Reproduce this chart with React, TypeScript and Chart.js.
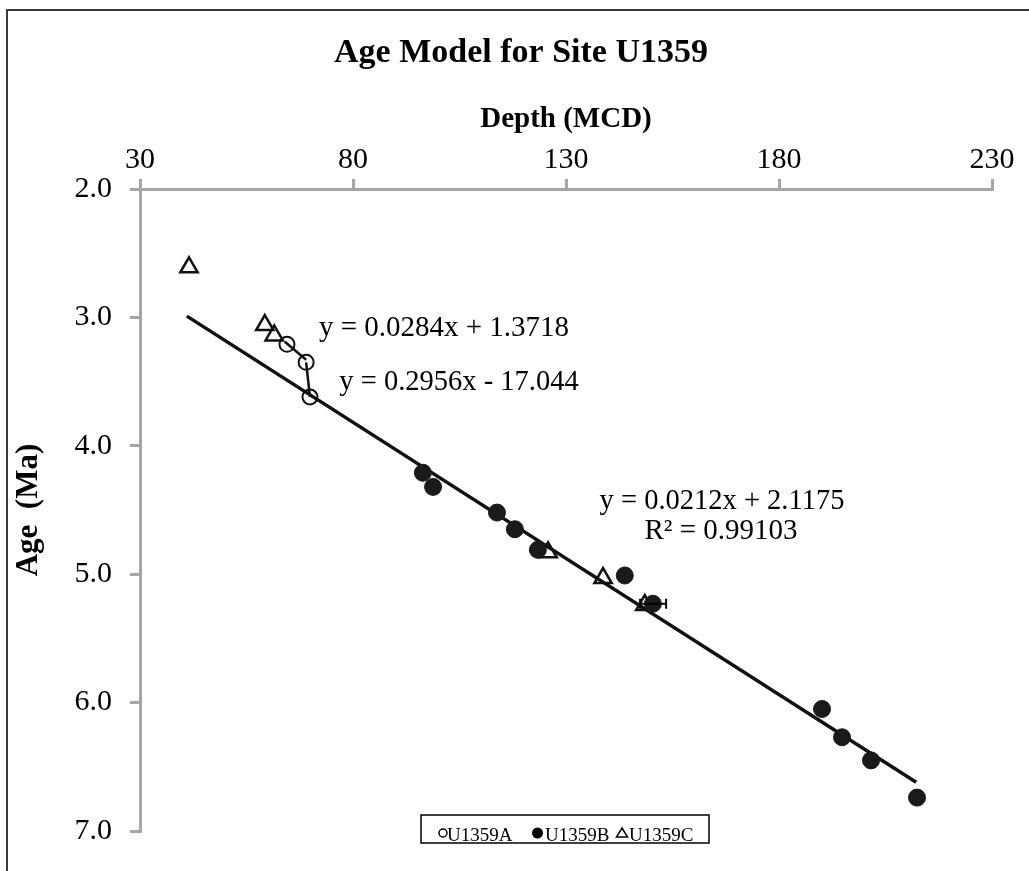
import React, { useEffect, useRef } from "react";
import { Chart, registerables } from "chart.js";
Chart.register(...registerables);

const FONT = "'Liberation Serif', 'Times New Roman', serif";

const chartTitle = "Age Model for Site U1359";
const xAxisTitle = "Depth (MCD)";
const yAxisTitle = "Age  (Ma)";
const seriesNames = ["U1359A", "U1359B", "U1359C"];

const siteADepth = [64.5, 69.0, 69.9];
const siteAAge = [3.21, 3.35, 3.62];

const siteBDepth = [96.4, 98.8, 113.8, 118.0, 123.4, 143.8, 150.4, 190.1, 194.8, 201.6, 212.4];
const siteBAge = [4.21, 4.32, 4.52, 4.65, 4.81, 5.01, 5.23, 6.05, 6.27, 6.45, 6.74];

const siteCDepth = [41.5, 59.3, 61.5, 125.8, 138.7, 148.5];
const siteCAge = [2.61, 3.06, 3.14, 4.83, 5.03, 5.24];

// trend line end points
const mainTrendDepth = [41.0, 212.2];
const mainTrendAge = [2.99, 6.62];
const trendA1Depth = [64.0, 69.0];
const trendA1Age = [3.19, 3.33];
const trendA2Depth = [69.0, 69.9];
const trendA2Age = [3.35, 3.62];

// horizontal error bar
const errDepth = [150.4];
const errAge = [5.23];
const errLow = [147.4];
const errHigh = [153.5];

const equationTexts = [
  "y = 0.0284x + 1.3718",
  "y = 0.2956x - 17.044",
  "y = 0.0212x + 2.1175",
  "R² = 0.99103",
];

const toPts = (xs: number[], ys: number[]) => xs.map((x, i) => ({ x, y: ys[i] }));

export default function App() {
  const ref = useRef<HTMLCanvasElement>(null);

  useEffect(() => {
    if (!ref.current) return;

    const errorPlugin = {
      id: "errorBars",
      afterDatasetsDraw(chart: any) {
        const { ctx, scales } = chart;
        ctx.save();
        ctx.strokeStyle = "#000";
        ctx.lineWidth = 2;
        errDepth.forEach((_, i) => {
          const y = scales.y.getPixelForValue(errAge[i]);
          const x1 = scales.x.getPixelForValue(errLow[i]);
          const x2 = scales.x.getPixelForValue(errHigh[i]);
          ctx.beginPath();
          ctx.moveTo(x1, y);
          ctx.lineTo(x2, y);
          ctx.moveTo(x1, y - 5);
          ctx.lineTo(x1, y + 5);
          ctx.moveTo(x2, y - 5);
          ctx.lineTo(x2, y + 5);
          ctx.stroke();
        });
        ctx.restore();
      },
    };

    const textPlugin = {
      id: "texts",
      afterDraw(chart: any) {
        const ctx = chart.ctx;
        ctx.save();
        ctx.fillStyle = "#000";
        ctx.textAlign = "center";
        ctx.textBaseline = "middle";
        ctx.font = `bold 34px ${FONT}`;
        ctx.fillText(chartTitle, 521, 53);
        ctx.font = `bold 29px ${FONT}`;
        ctx.fillText(xAxisTitle, 566, 120);
        ctx.save();
        ctx.translate(29, 510);
        ctx.rotate(-Math.PI / 2);
        ctx.font = `bold 31px ${FONT}`;
        ctx.fillText(yAxisTitle, 0, 0);
        ctx.restore();

        ctx.font = `29px ${FONT}`;
        ctx.fillText(equationTexts[0], 444, 328);
        ctx.font = `28.5px ${FONT}`;
        ctx.fillText(equationTexts[1], 459, 383);
        ctx.fillText(equationTexts[2], 722, 502);
        ctx.font = `29px ${FONT}`;
        ctx.fillText(equationTexts[3], 721, 531);

        // legend
        const lx = 421, ly = 815, lw = 288, lh = 28;
        ctx.fillStyle = "#fff";
        ctx.fillRect(lx, ly, lw, lh);
        ctx.strokeStyle = "#000";
        ctx.lineWidth = 1.5;
        ctx.strokeRect(lx, ly, lw, lh);
        ctx.fillStyle = "#000";
        ctx.font = `19px ${FONT}`;
        ctx.textAlign = "left";
        const ty = 836;
        const my = 833;
        const markerX = [443, 537.5, 622];
        const textX = [447, 545, 629];
        // open circle
        ctx.lineWidth = 1.5;
        ctx.beginPath();
        ctx.arc(markerX[0], my, 4, 0, Math.PI * 2);
        ctx.stroke();
        // filled circle
        ctx.beginPath();
        ctx.arc(markerX[1], my, 5.5, 0, Math.PI * 2);
        ctx.fill();
        // triangle
        ctx.beginPath();
        ctx.moveTo(markerX[2], my - 5);
        ctx.lineTo(markerX[2] + 5.5, my + 4);
        ctx.lineTo(markerX[2] - 5.5, my + 4);
        ctx.closePath();
        ctx.stroke();
        seriesNames.forEach((n, i) => ctx.fillText(n, textX[i], ty));
        ctx.restore();
      },
    };

    const axisColor = "#a6a6a6";
    const chart = new Chart(ref.current, {
      type: "scatter",
      data: {
        datasets: [
          {
            label: seriesNames[0],
            data: toPts(siteADepth, siteAAge),
            pointStyle: "circle",
            pointRadius: 7.5,
            pointBorderWidth: 2,
            pointBorderColor: "#111",
            pointBackgroundColor: "rgba(0,0,0,0)",
            order: 0,
          },
          {
            label: seriesNames[1],
            data: toPts(siteBDepth, siteBAge),
            pointStyle: "circle",
            pointRadius: 8.5,
            pointBorderWidth: 1,
            pointBorderColor: "#1a1a1a",
            pointBackgroundColor: "#1a1a1a",
            order: 1,
          },
          {
            label: seriesNames[2],
            data: toPts(siteCDepth, siteCAge),
            pointStyle: "triangle",
            pointRadius: 10,
            pointBorderWidth: 2.5,
            pointBorderColor: "#111",
            pointBackgroundColor: "rgba(0,0,0,0)",
            order: 2,
          },
          {
            label: "trend",
            data: toPts(mainTrendDepth, mainTrendAge),
            showLine: true,
            borderColor: "#111",
            borderWidth: 3.5,
            pointRadius: 0,
            order: 5,
          },
          {
            label: "trendA1",
            data: toPts(trendA1Depth, trendA1Age),
            showLine: true,
            borderColor: "#111",
            borderWidth: 2.5,
            pointRadius: 0,
            order: 5,
          },
          {
            label: "trendA2",
            data: toPts(trendA2Depth, trendA2Age),
            showLine: true,
            borderColor: "#111",
            borderWidth: 2.5,
            pointRadius: 0,
            order: 5,
          },
        ],
      },
      options: {
        responsive: false,
        animation: false,
        layout: { padding: { left: 0, top: 0, right: 37, bottom: 40 } },
        plugins: { legend: { display: false }, tooltip: { enabled: false }, title: { display: false } },
        scales: {
          x: {
            type: "linear",
            position: "top",
            min: 30,
            max: 230,
            ticks: { stepSize: 50, color: "#000", font: { family: FONT, size: 30 }, padding: 1 },
            grid: { drawOnChartArea: false, drawTicks: true, tickLength: 10, color: axisColor, lineWidth: 3 },
            border: { display: true, color: axisColor, width: 3 },
            afterFit: (s: any) => {
              s.height = 189;
            },
          },
          y: {
            type: "linear",
            reverse: true,
            min: 2,
            max: 7,
            ticks: {
              stepSize: 1,
              color: "#000",
              font: { family: FONT, size: 30 },
              padding: 18,
              callback: (v: any) => Number(v).toFixed(1),
            },
            grid: { drawOnChartArea: false, drawTicks: true, tickLength: 10, color: axisColor, lineWidth: 3 },
            border: { display: true, color: axisColor, width: 3 },
            afterFit: (s: any) => {
              s.width = 140;
            },
          },
        },
      },
      plugins: [errorPlugin, textPlugin],
    } as any);
    return () => chart.destroy();
  }, []);

  return (
    <div style={{ position: "fixed", left: 0, top: 0, width: 1029, height: 871, overflow: "hidden", background: "#fff" }}>
      <div
        style={{
          position: "absolute",
          left: 6,
          top: 9,
          width: 1100,
          height: 1000,
          border: "2px solid #3a3a3a",
        }}
      />
      <canvas ref={ref} width={1029} height={871} style={{ position: "absolute", left: 0, top: 0 }} />
    </div>
  );
}
